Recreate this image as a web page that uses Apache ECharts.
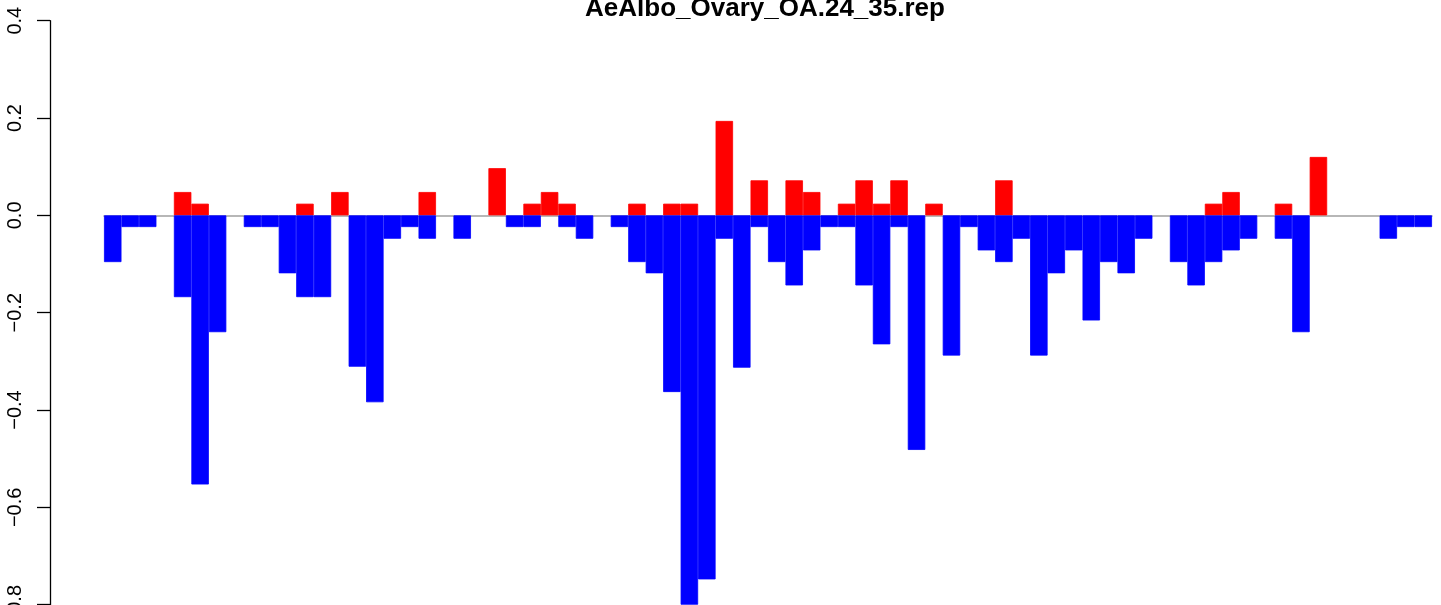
<!DOCTYPE html>
<html>
<head>
<meta charset="utf-8">
<script src="https://cdn.jsdelivr.net/npm/echarts@6/dist/echarts.min.js"></script>
<style>
html,body{margin:0;padding:0;background:#fff;}
#chart{width:1441px;height:605px;}
</style>
</head>
<body>
<div id="chart"></div>
<script>
const chartTitle = "AeAlbo_Ovary_OA.24_35.rep";
const categories = Array.from({length: 76}, (_, i) => String(i + 1));
const posValues = [
  0, 0, 0, 0, 0.048, 0.024, 0, 0, 0, 0,
  0, 0.024, 0, 0.048, 0, 0, 0, 0, 0.048, 0,
  0, 0, 0.097, 0, 0.024, 0.048, 0.024, 0, 0, 0,
  0.024, 0, 0.024, 0.024, 0, 0.194, 0, 0.072, 0, 0.072,
  0.048, 0, 0.024, 0.072, 0.024, 0.072, 0, 0.024, 0, 0,
  0, 0.072, 0, 0, 0, 0, 0, 0, 0, 0,
  0, 0, 0, 0.024, 0.048, 0, 0, 0.024, 0, 0.12,
  0, 0, 0, 0, 0, 0
];
const negValues = [
  -0.096, -0.024, -0.024, 0, -0.168, -0.553, -0.24, 0, -0.024, -0.024,
  -0.119, -0.168, -0.168, 0, -0.311, -0.384, -0.048, -0.024, -0.048, 0,
  -0.048, 0, 0, -0.024, -0.024, 0, -0.024, -0.048, 0, -0.024,
  -0.096, -0.119, -0.363, -0.80, -0.748, -0.048, -0.313, -0.024, -0.096, -0.144,
  -0.072, -0.024, -0.024, -0.144, -0.265, -0.024, -0.482, 0, -0.288, -0.024,
  -0.072, -0.096, -0.048, -0.288, -0.119, -0.072, -0.216, -0.096, -0.119, -0.048,
  0, -0.096, -0.144, -0.096, -0.072, -0.048, 0, -0.048, -0.24, 0,
  0, 0, 0, -0.048, -0.024, -0.024
];
const yTickValues = [-0.8, -0.6, -0.4, -0.2, 0.0, 0.2, 0.4];
const yTickLabels = ["\u22120.8", "\u22120.6", "\u22120.4", "\u22120.2", "0.0", "0.2", "0.4"];

const toBarData = arr => arr.map(v => (v === 0 ? '-' : v));

const chart = echarts.init(document.getElementById('chart'), null, {renderer: 'canvas'});
const font = "'Liberation Sans', Arial, Helvetica, sans-serif";
chart.setOption({
  animation: false,
  backgroundColor: '#ffffff',
  title: {
    text: chartTitle,
    left: 760,
    textAlign: 'center',
    top: -9,
    textStyle: {fontFamily: font, fontSize: 26, fontWeight: 'bold', color: '#000'}
  },
  grid: {left: 104, right: 9, top: 20.7, height: 584, containLabel: false, outerBoundsMode: 'none'},
  xAxis: {
    type: 'category',
    data: categories,
    boundaryGap: true,
    axisLine: {show: true, onZero: true, lineStyle: {color: '#a0a0a0', width: 1.5}},
    axisTick: {show: false},
    axisLabel: {show: false},
    splitLine: {show: false}
  },
  yAxis: {
    type: 'value',
    min: -0.8,
    max: 0.4,
    interval: 0.2,
    offset: 54,
    axisLine: {show: true, lineStyle: {color: '#000', width: 1.3}},
    axisTick: {show: true, length: 13, lineStyle: {color: '#000', width: 1.3}},
    axisLabel: {
      show: true,
      rotate: 90,
      margin: 25,
      fontFamily: font,
      fontSize: 20,
      color: '#000',
      formatter: function (v) {
        for (let i = 0; i < yTickValues.length; i++) {
          if (Math.abs(yTickValues[i] - v) < 1e-9) return yTickLabels[i];
        }
        return '';
      }
    },
    splitLine: {show: false}
  },
  series: [
    {
      name: 'pos',
      type: 'bar',
      data: toBarData(posValues),
      barWidth: '100%',
      barGap: '-100%',
      itemStyle: {color: '#ff0000', borderColor: '#ff0000', borderWidth: 0.8}
    },
    {
      name: 'neg',
      type: 'bar',
      data: toBarData(negValues),
      barWidth: '100%',
      barGap: '-100%',
      itemStyle: {color: '#0000ff', borderColor: '#0000ff', borderWidth: 0.8}
    }
  ]
});
</script>
</body>
</html>
